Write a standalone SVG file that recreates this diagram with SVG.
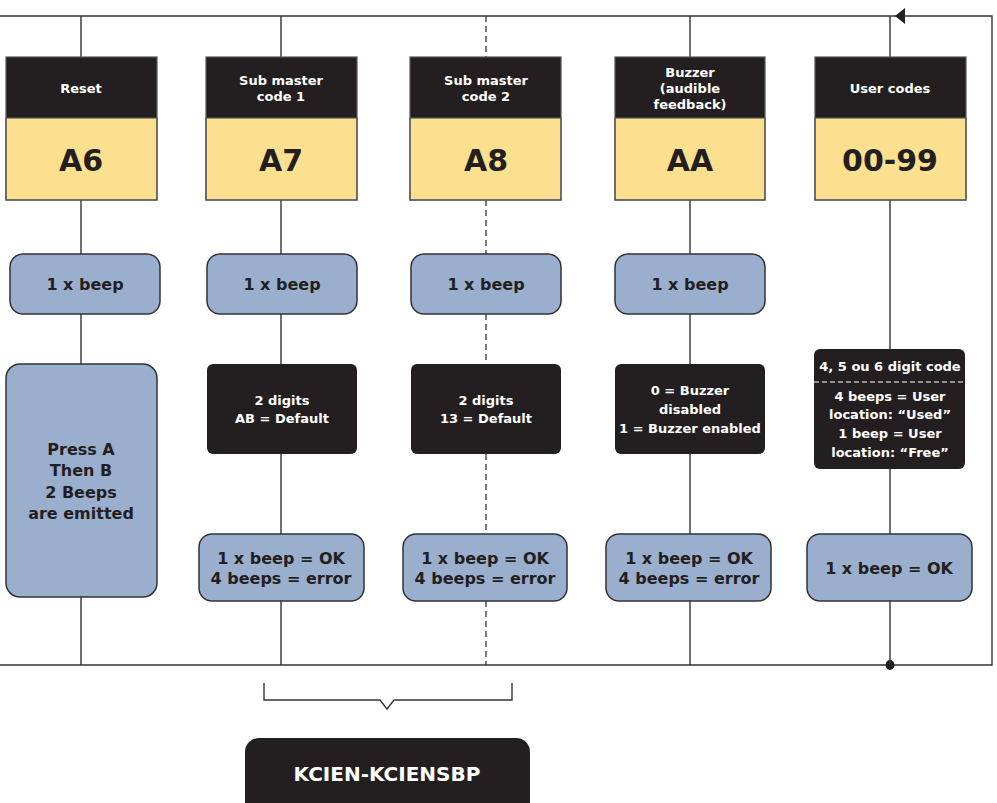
<svg xmlns="http://www.w3.org/2000/svg" width="997" height="803" viewBox="0 0 997 803">
<style>
text{font-family:"DejaVu Sans","Verdana",sans-serif;font-weight:bold;text-anchor:middle}
.hd{fill:#231F20}
.yl{fill:#FDE08F;stroke:#555;stroke-width:1.2}
.hdb{fill:none;stroke:#555;stroke-width:1.2}
.bl{fill:#9AAECE;stroke:#333;stroke-width:1.5}
.bk{fill:#231F20}
.wt{fill:#fff;font-size:13px}
.big{fill:#231F20;font-size:30px}
.dk{fill:#231F20;font-size:16px}
.ln{stroke:#333;stroke-width:1.4;fill:none}
.ds{stroke:#444;stroke-width:1.4;fill:none;stroke-dasharray:6 4}
</style>
<g id="connectors">
<path class="ln" d="M0 16 H992 V665 H0"/>
<path d="M895 16 L905 8 L905 24 Z" fill="#231F20"/>
<ellipse cx="890" cy="665" rx="4.5" ry="5" fill="#231F20"/>
<path class="ln" d="M81 16 V57 M81 200 V254 M81 314 V364 M81 597 V665"/>
<path class="ln" d="M281 16 V57 M281 200 V254 M281 314 V364 M281 454 V534 M281 601 V665"/>
<path class="ds" d="M486 16 V57 M486 200 V254 M486 314 V364 M486 454 V534 M486 601 V665"/>
<path class="ln" d="M690 16 V57 M690 200 V254 M690 314 V364 M690 454 V534 M690 601 V665"/>
<path class="ln" d="M890 16 V57 M890 200 V349 M890 469 V534 M890 601 V665"/>
<path class="ln" stroke-width="1.8" d="M264 683 V700 H380 L387 709 L394 700 H512 V683"/>
</g>
<g id="col1-header">
<rect class="hd" x="6" y="57" width="151" height="61"/>
<rect class="yl" x="6" y="118" width="151" height="82"/>
<rect class="hdb" x="6" y="57" width="151" height="143"/>
<text class="wt" x="81" y="93">Reset</text>
<text class="big" x="81" y="171">A6</text>
</g>
<g id="col2-header">
<rect class="hd" x="206" y="57" width="151" height="61"/>
<rect class="yl" x="206" y="118" width="151" height="82"/>
<rect class="hdb" x="206" y="57" width="151" height="143"/>
<text class="wt" x="281" y="85">Sub master</text>
<text class="wt" x="281" y="101">code 1</text>
<text class="big" x="281" y="171">A7</text>
</g>
<g id="col3-header">
<rect class="hd" x="410" y="57" width="151" height="61"/>
<rect class="yl" x="410" y="118" width="151" height="82"/>
<rect class="hdb" x="410" y="57" width="151" height="143"/>
<text class="wt" x="486" y="85">Sub master</text>
<text class="wt" x="486" y="101">code 2</text>
<text class="big" x="486" y="171">A8</text>
</g>
<g id="col4-header">
<rect class="hd" x="615" y="57" width="150" height="61"/>
<rect class="yl" x="615" y="118" width="150" height="82"/>
<rect class="hdb" x="615" y="57" width="150" height="143"/>
<text class="wt" x="690" y="77">Buzzer</text>
<text class="wt" x="690" y="93">(audible</text>
<text class="wt" x="690" y="109">feedback)</text>
<text class="big" x="690" y="171">AA</text>
</g>
<g id="col5-header">
<rect class="hd" x="815" y="57" width="151" height="61"/>
<rect class="yl" x="815" y="118" width="151" height="82"/>
<rect class="hdb" x="815" y="57" width="151" height="143"/>
<text class="wt" x="890" y="93">User codes</text>
<text class="big" x="890" y="171">00-99</text>
</g>
<g id="col1-beep">
<rect class="bl" x="10" y="254" width="150" height="60" rx="13"/>
<text class="dk" x="85" y="290">1 x beep</text>
</g>
<g id="col2-beep">
<rect class="bl" x="207" y="254" width="150" height="60" rx="13"/>
<text class="dk" x="282" y="290">1 x beep</text>
</g>
<g id="col3-beep">
<rect class="bl" x="411" y="254" width="150" height="60" rx="13"/>
<text class="dk" x="486" y="290">1 x beep</text>
</g>
<g id="col4-beep">
<rect class="bl" x="615" y="254" width="150" height="60" rx="13"/>
<text class="dk" x="690" y="290">1 x beep</text>
</g>
<g id="col1-press">
<rect class="bl" x="6" y="364" width="151" height="233" rx="14"/>
<text class="dk" x="81" y="455">Press A</text>
<text class="dk" x="81" y="476">Then B</text>
<text class="dk" x="81" y="498">2 Beeps</text>
<text class="dk" x="81" y="519">are emitted</text>
</g>
<g id="col2-digits">
<rect class="bk" x="207" y="364" width="150" height="90" rx="6"/>
<text class="wt" x="282" y="405">2 digits</text>
<text class="wt" x="282" y="423">AB = Default</text>
</g>
<g id="col3-digits">
<rect class="bk" x="411" y="364" width="150" height="90" rx="6"/>
<text class="wt" x="486" y="405">2 digits</text>
<text class="wt" x="486" y="423">13 = Default</text>
</g>
<g id="col4-buzzer">
<rect class="bk" x="615" y="364" width="150" height="90" rx="6"/>
<text class="wt" x="690" y="395">0 = Buzzer</text>
<text class="wt" x="690" y="414">disabled</text>
<text class="wt" x="690" y="433">1 = Buzzer enabled</text>
</g>
<g id="col5-code">
<rect class="bk" x="814" y="349" width="151" height="120" rx="6"/>
<text class="wt" x="890" y="371" font-size="12">4, 5 ou 6 digit code</text>
<line x1="814" y1="382" x2="965" y2="382" stroke="#fff" stroke-width="1.2" stroke-dasharray="5 3"/>
<text class="wt" x="890" y="401">4 beeps = User</text>
<text class="wt" x="890" y="419">location: “Used”</text>
<text class="wt" x="890" y="438">1 beep = User</text>
<text class="wt" x="890" y="457">location: “Free”</text>
</g>
<g id="col2-result">
<rect class="bl" x="199" y="534" width="165" height="67" rx="13"/>
<text class="dk" x="281" y="564">1 x beep = OK</text>
<text class="dk" x="281" y="584">4 beeps = error</text>
</g>
<g id="col3-result">
<rect class="bl" x="403" y="534" width="164" height="67" rx="13"/>
<text class="dk" x="485" y="564">1 x beep = OK</text>
<text class="dk" x="485" y="584">4 beeps = error</text>
</g>
<g id="col4-result">
<rect class="bl" x="606" y="534" width="165" height="67" rx="13"/>
<text class="dk" x="689" y="564">1 x beep = OK</text>
<text class="dk" x="689" y="584">4 beeps = error</text>
</g>
<g id="col5-result">
<rect class="bl" x="807" y="534" width="165" height="67" rx="13"/>
<text class="dk" x="889" y="574">1 x beep = OK</text>
</g>
<g id="product">
<rect class="bk" x="245" y="738" width="285" height="80" rx="14"/>
<text x="387" y="781" fill="#fff" font-size="20">KCIEN-KCIENSBP</text>
</g>
</svg>
